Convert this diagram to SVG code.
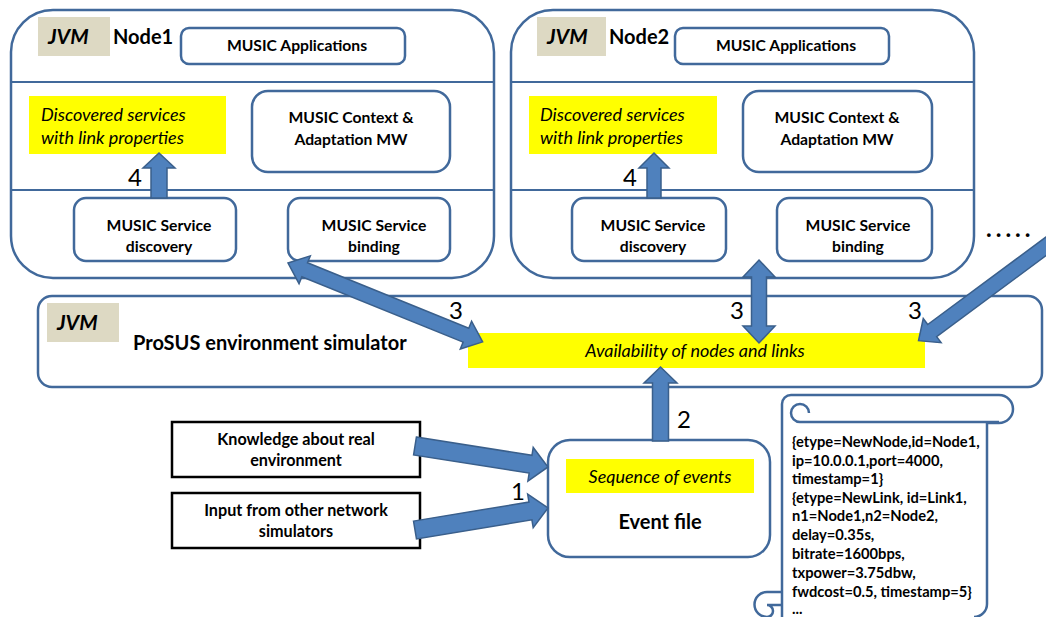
<svg xmlns="http://www.w3.org/2000/svg" width="1046" height="617" viewBox="0 0 1046 617">
<defs>
<style>
.ob{fill:#fff;stroke:#41699b;stroke-width:2.5}
.ib{fill:#fff;stroke:#41699b;stroke-width:2.5}
.sep{stroke:#41699b;stroke-width:2}
.jvm{fill:#ddd9c3}
.yel{fill:#ffff00}
.arr{fill:#4f81bd;stroke:#3a5f8b;stroke-width:1.5;stroke-linejoin:miter}
.blk{fill:#fff;stroke:#000;stroke-width:2.5}
text{font-family:Lato,"Liberation Sans",sans-serif;fill:#000}
.bc{font-weight:bold;font-size:15.7px;text-anchor:middle}
.bk{font-weight:bold;font-size:16.2px;text-anchor:middle}
.jv{font-weight:bold;font-style:italic;font-size:21px}
.nd{font-weight:bold;font-size:20px}
.it{font-style:italic;font-size:18px}
.num{font-size:24px}
.sc{font-weight:bold;font-size:14.7px}
.scroll{fill:#fff;stroke:#41699b;stroke-width:2.5;stroke-linejoin:round}
.curl{fill:none;stroke:#41699b;stroke-width:2.5}
</style>
</defs>

<g id="node1">
<rect class="ob" x="11" y="10" width="483" height="268" rx="42"/>
<line class="sep" x1="11" y1="82" x2="494" y2="82"/>
<line class="sep" x1="11" y1="190" x2="494" y2="190"/>
<rect class="jvm" x="38" y="17" width="72" height="39"/>
<text class="jv" x="48" y="44">JVM</text>
<text class="nd" x="113" y="44">Node1</text>
<g id="n1-apps"><rect class="ib" x="181" y="28" width="224" height="36" rx="8"/><text class="bc" x="297" y="51">MUSIC Applications</text></g>
<g id="n1-disc-services"><rect class="yel" x="29" y="96" width="197" height="58"/><text class="it" x="41" y="121">Discovered services</text><text class="it" x="41" y="144">with link properties</text></g>
<g id="n1-context"><rect class="ib" x="252" y="91" width="198" height="81" rx="16"/><text class="bc" x="351" y="123">MUSIC Context &amp;</text><text class="bc" x="351" y="145">Adaptation MW</text></g>
<g id="n1-discovery"><rect class="ib" x="74" y="198" width="162" height="63" rx="12"/><text class="bc" x="159" y="231">MUSIC Service</text><text class="bc" x="159" y="252">discovery</text></g>
<g id="n1-binding"><rect class="ib" x="288" y="198" width="162" height="63" rx="12"/><text class="bc" x="374" y="231">MUSIC Service</text><text class="bc" x="374" y="252">binding</text></g>
</g>

<g id="node2">
<rect class="ob" x="511" y="10" width="463" height="268" rx="42"/>
<line class="sep" x1="511" y1="82" x2="974" y2="82"/>
<line class="sep" x1="511" y1="190" x2="974" y2="190"/>
<rect class="jvm" x="537" y="17" width="69" height="39"/>
<text class="jv" x="547" y="44">JVM</text>
<text class="nd" x="609" y="44">Node2</text>
<g id="n2-apps"><rect class="ib" x="675" y="28" width="214" height="36" rx="8"/><text class="bc" x="786" y="51">MUSIC Applications</text></g>
<g id="n2-disc-services"><rect class="yel" x="529" y="96" width="188" height="58"/><text class="it" x="540" y="121">Discovered services</text><text class="it" x="540" y="144">with link properties</text></g>
<g id="n2-context"><rect class="ib" x="743" y="91" width="189" height="81" rx="16"/><text class="bc" x="837" y="123">MUSIC Context &amp;</text><text class="bc" x="837" y="145">Adaptation MW</text></g>
<g id="n2-discovery"><rect class="ib" x="572" y="198" width="154" height="63" rx="12"/><text class="bc" x="653" y="231">MUSIC Service</text><text class="bc" x="653" y="252">discovery</text></g>
<g id="n2-binding"><rect class="ib" x="777" y="198" width="155" height="63" rx="12"/><text class="bc" x="858" y="231">MUSIC Service</text><text class="bc" x="858" y="252">binding</text></g>
</g>

<g id="more-nodes"><text x="986" y="237" font-weight="bold" font-size="24" letter-spacing="4">.....</text></g>

<g id="simulator">
<rect class="ob" x="38" y="296" width="1004" height="91" rx="14"/>
<rect class="jvm" x="47" y="303" width="72" height="39"/>
<text class="jv" x="57" y="330">JVM</text>
<text class="nd" x="133" y="350" font-size="20.5">ProSUS environment simulator</text>
<g id="availability"><rect class="yel" x="468" y="333" width="457" height="35"/><text class="it" x="695" y="357" text-anchor="middle" font-size="17.5">Availability of nodes and links</text></g>
</g>

<g id="event-file">
<rect class="ob" x="548" y="440" width="222" height="117" rx="22"/>
<rect class="yel" x="566" y="459" width="188" height="34"/>
<text class="it" x="660" y="483" text-anchor="middle" font-size="18.4">Sequence of events</text>
<text class="nd" x="660" y="529" text-anchor="middle">Event file</text>
</g>

<g id="knowledge">
<rect class="blk" x="172" y="422" width="248" height="55"/>
<text class="bk" x="296" y="445">Knowledge about real</text>
<text class="bk" x="296" y="466">environment</text>
</g>
<g id="input-sims">
<rect class="blk" x="172" y="493" width="248" height="55"/>
<text class="bk" x="296" y="516">Input from other network</text>
<text class="bk" x="296" y="537">simulators</text>
</g>

<g id="scroll">
<path class="scroll" d="M782,617 L782,404 A9,9 0 0 1 791,395 L999,395 A14,14 0 0 1 999,423 L987,423 L987,604 A13,13 0 0 1 974,617"/>
<path class="curl" d="M809,413 A9,9 0 1 0 800,422 L999,422"/>
<path class="curl" d="M782,592 L767,592 A12.5,12.5 0 0 0 767,617 A6,6 0 0 0 767,605 L782,605"/>
<text class="sc" x="792" y="447">{etype=NewNode,id=Node1,</text>
<text class="sc" x="792" y="466">ip=10.0.0.1,port=4000,</text>
<text class="sc" x="792" y="484">timestamp=1}</text>
<text class="sc" x="792" y="503">{etype=NewLink, id=Link1,</text>
<text class="sc" x="792" y="521">n1=Node1,n2=Node2,</text>
<text class="sc" x="792" y="540">delay=0.35s,</text>
<text class="sc" x="792" y="559">bitrate=1600bps,</text>
<text class="sc" x="792" y="578">txpower=3.75dbw,</text>
<text class="sc" x="792" y="597">fwdcost=0.5, timestamp=5}</text>
<text class="sc" x="792" y="614">...</text>
</g>

<g id="connectors">
<polygon class="arr" points="151,198 151,168 143,168 159,153 175,168 167,168 167,198"/>
<polygon class="arr" points="647,198 647,168 639,168 654,153 669,168 661,168 661,198"/>
<polygon class="arr" transform="translate(288,263) rotate(22.06)" points="0,0 18,-15 18,-7.5 192,-7.5 192,-15 210,0 192,15 192,7.5 18,7.5 18,15"/>
<polygon class="arr" points="759,260 775,277 766.5,277 766.5,326 775,326 759,343 743,326 751.5,326 751.5,277 743,277"/>
<polygon class="arr" transform="translate(1060,236) rotate(143.5)" points="0,-7.5 159,-7.5 159,-15 176,0 159,15 159,7.5 0,7.5"/>
<polygon class="arr" points="652.5,441 652.5,383 644,383 660.5,367 677,383 668.5,383 668.5,441"/>
<polygon class="arr" transform="translate(415,446) rotate(8.97)" points="0,-9 117,-9 117,-17 134.6,0 117,17 117,9 0,9"/>
<polygon class="arr" transform="translate(415,530) rotate(-9.4)" points="0,-9 117,-9 117,-17 134.8,0 117,17 117,9 0,9"/>
<text class="num" x="128" y="186">4</text>
<text class="num" x="623" y="186">4</text>
<text class="num" x="449" y="319">3</text>
<text class="num" x="730" y="319">3</text>
<text class="num" x="908" y="319">3</text>
<text class="num" x="677" y="428">2</text>
<text class="num" x="511" y="500">1</text>
</g>
</svg>
